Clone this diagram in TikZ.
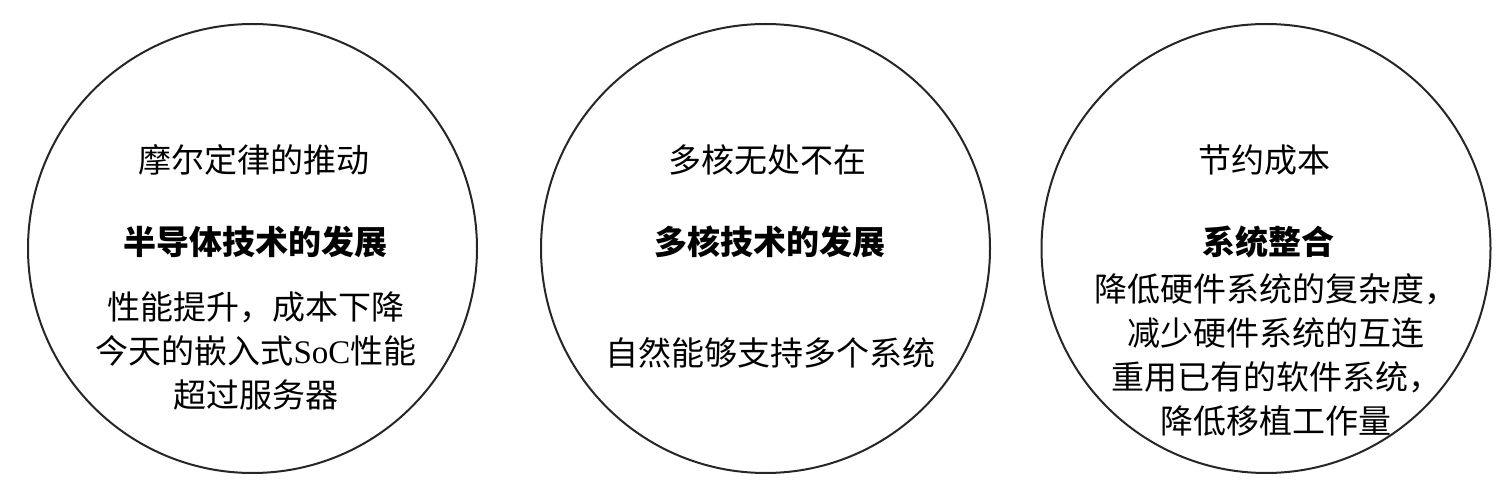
\documentclass[tikz,border=0pt]{standalone}
\usepackage{fontspec}
\setmainfont{Liberation Serif}
\newfontfamily\cjk{Noto Sans CJK SC}
\usetikzlibrary{positioning}
\tikzset{ring/.style={draw=black!85,line width=2pt,circle,minimum size=449pt,inner sep=0pt},head/.style={font=\cjk\fontsize{33}{44}\selectfont},key/.style={font=\cjk\bfseries\fontsize{33}{44}\selectfont},body/.style={align=center,font=\cjk\fontsize{33}{44}\selectfont}}

\begin{document}
\begin{tikzpicture}[x=1pt,y=1pt]
\useasboundingbox (0,0) rectangle (1507,493);
\node[ring] (moore) at (252.5,244.5) {};
\node[ring] (multi) at (765.5,244.5) {};
\node[ring] (cost) at (1266,244.5) {};
\node[head] (mooret) at (254,333) {摩尔定律的推动};
\node[head] (multit) at (767,333) {多核无处不在};
\node[head] (costt) at (1264,333) {节约成本};
\node[key] (moorek) at (255,251) {半导体技术的发展};
\node[key] (multik) at (770,251) {多核技术的发展};
\node[key] (costk) at (1268,251) {系统整合};
\node[body] (mooreb) at (256,142) {性能提升，成本下降\\今天的嵌入式{\rmfamily SoC}性能\\超过服务器};
\node[body] (multib) at (770,140) {自然能够支持多个系统};
\node[body] (costb) at (1276,138) {降低硬件系统的复杂度，\\减少硬件系统的互连\\重用已有的软件系统，\\降低移植工作量};
\end{tikzpicture}
\end{document}
